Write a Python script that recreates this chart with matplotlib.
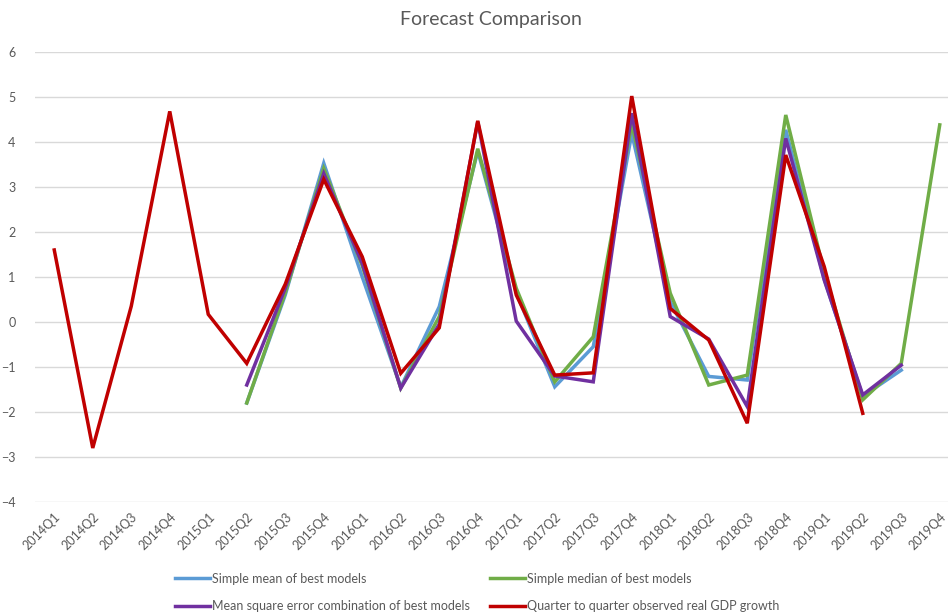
import numpy as np
import matplotlib.pyplot as plt

nan = np.nan

quarters = [f"{y}Q{q}" for y in range(2014, 2020) for q in range(1, 5)]

mean_best = [nan, nan, nan, nan, nan, -1.80, 0.60, 3.53, 1.00, -1.45, 0.34, 3.80,
             0.65, -1.44, -0.55, 4.19, 0.45, -1.21, -1.29, 4.27, 0.95, -1.65, -1.07, nan]
median_best = [nan, nan, nan, nan, nan, -1.80, 0.65, 3.41, 1.25, -1.47, 0.12, 3.85,
               0.75, -1.33, -0.33, 4.40, 0.64, -1.40, -1.18, 4.60, 1.10, -1.73, -0.92, 4.38]
mse_best = [nan, nan, nan, nan, nan, -1.40, 0.75, 3.30, 1.30, -1.47, -0.05, 4.45,
            0.02, -1.20, -1.33, 4.64, 0.12, -0.38, -1.88, 4.08, 0.93, -1.62, -0.96, nan]
observed = [1.60, -2.80, 0.35, 4.68, 0.17, -0.92, 0.84, 3.17, 1.45, -1.14, -0.13, 4.47,
            0.60, -1.18, -1.13, 5.02, 0.30, -0.40, -2.25, 3.71, 1.23, -2.03, nan, nan]

series = [
    ("Simple mean of best models", mean_best, "#5B9BD5"),
    ("Simple median of best models", median_best, "#70AD47"),
    ("Mean square error combination of best models", mse_best, "#7030A0"),
    ("Quarter to quarter observed real GDP growth", observed, "#C00000"),
]

plt.rcParams["font.family"] = ["Lato", "DejaVu Sans"]
text_col = "#595959"

fig = plt.figure(figsize=(9.48, 6.13), dpi=100)
ax = fig.add_axes([35 / 948, 0.1811, 924 / 948, 0.7341])

x = np.arange(len(quarters))
lines = {}
for name, vals, col in series:
    ln, = ax.plot(x, vals, color=col, lw=2.5, label=name, solid_joinstyle="miter")
    lines[name] = ln

ax.set_xlim(-0.5, len(quarters) - 0.5)
ax.set_ylim(-4, 6)
ax.set_yticks(range(-4, 7))
ax.set_xticks(x)
ax.set_xticklabels(quarters, rotation=45, ha="right", rotation_mode="anchor")
ax.tick_params(length=0, labelsize=9, colors=text_col)
ax.tick_params(axis="y", pad=14)
ax.tick_params(axis="x", pad=6)
ax.grid(axis="y", color="#D9D9D9", lw=1)
ax.set_axisbelow(True)
for s in ax.spines.values():
    s.set_visible(False)

fig.text(491 / 948, 1 - 20 / 613, "Forecast Comparison", ha="center", va="center",
         fontsize=14, color=text_col)

# legend in two rows: mean/median on top, mse/observed below
names = [s[0] for s in series]
order = [names[0], names[2], names[1], names[3]]
leg = fig.legend([lines[n] for n in order], order, ncol=2, loc="upper left",
                 bbox_to_anchor=(175 / 948, 0.066), frameon=False, fontsize=9,
                 handlelength=2.8, handletextpad=0.15, columnspacing=1.6,
                 labelspacing=1.25, borderpad=0, borderaxespad=0)
for t in leg.get_texts():
    t.set_color(text_col)

fig.savefig("out.png", dpi=100)
